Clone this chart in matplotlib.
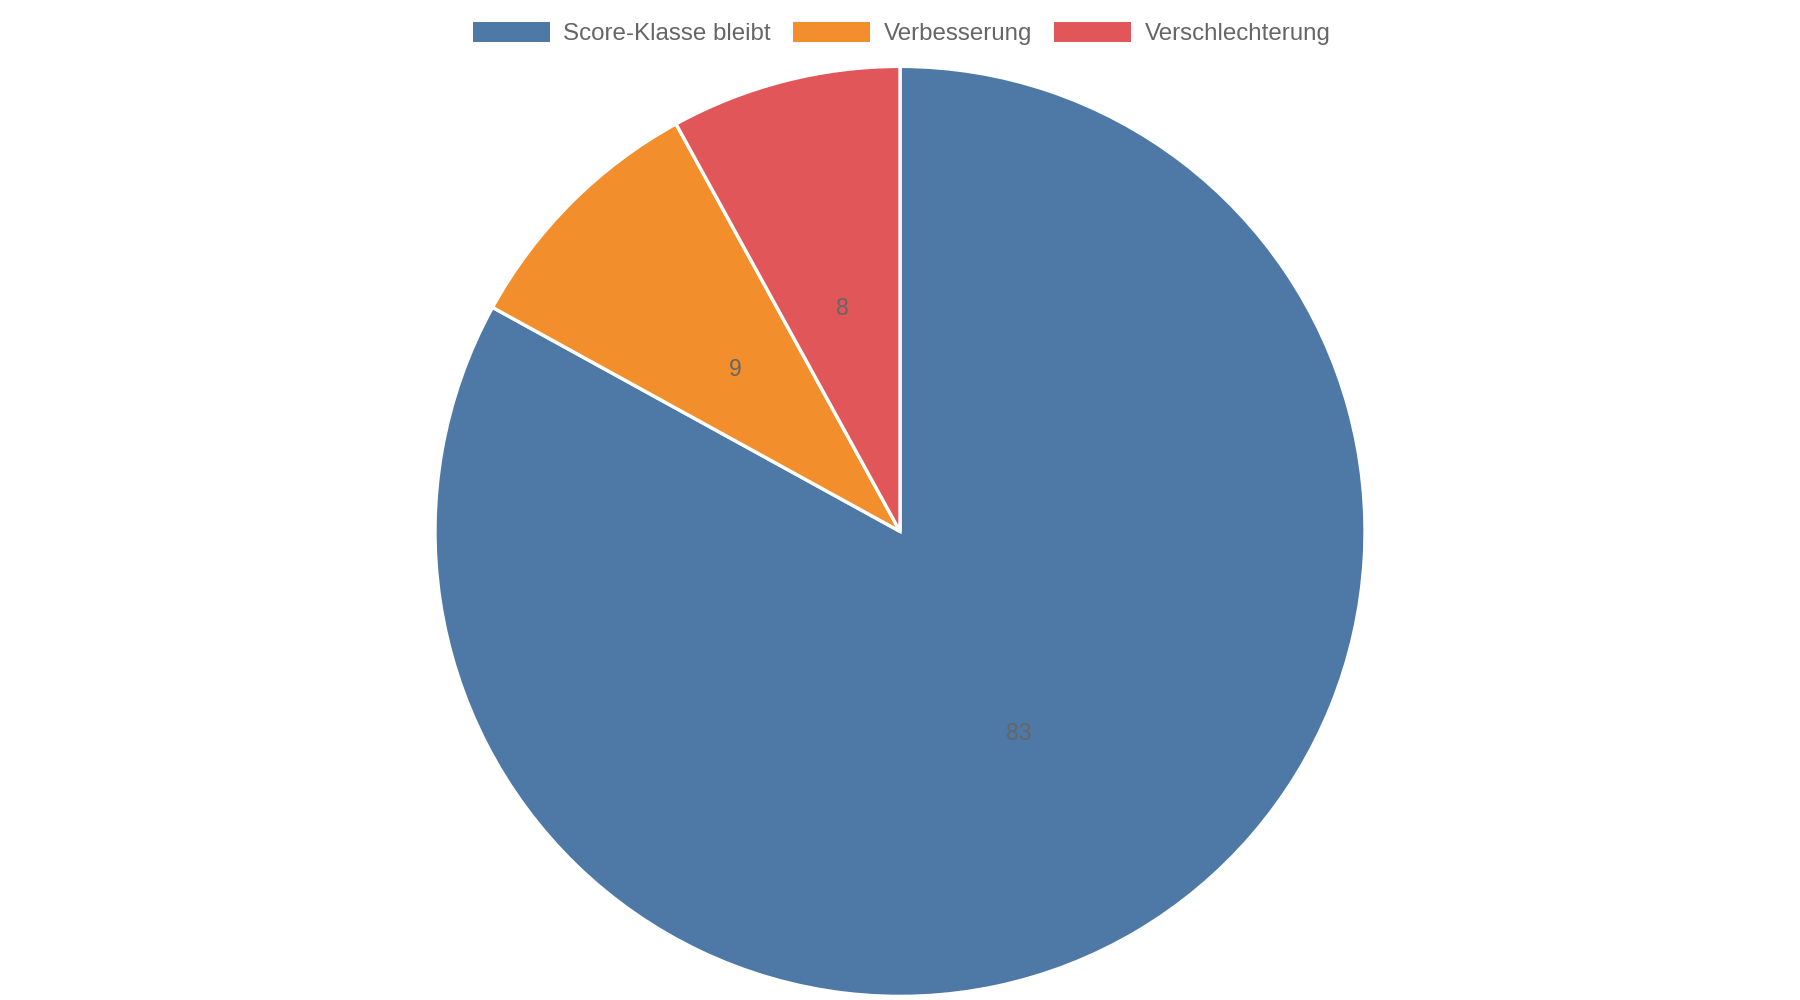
import matplotlib.pyplot as plt
import numpy as np
from matplotlib.patches import Patch

plt.rcParams['font.family'] = ['Liberation Sans', 'DejaVu Sans']

labels = ["Score-Klasse bleibt", "Verbesserung", "Verschlechterung"]
values = [83, 9, 8]
colors = ["#4e79a7", "#f28e2b", "#e15759"]

fig = plt.figure(figsize=(18, 10), dpi=100)
ax = fig.add_axes([(900 - 465) / 1800, 3.6 / 1000, 930 / 1800, 930 / 1000])

wedges, _ = ax.pie(values, colors=colors, startangle=90, counterclock=False,
                   radius=1, wedgeprops=dict(edgecolor="white", linewidth=2.4))
ax.set_xlim(-1, 1)
ax.set_ylim(-1, 1)
ax.set_aspect("equal")

# value labels at the middle of each slice
for w, v in zip(wedges, values):
  ang = np.deg2rad((w.theta1 + w.theta2) / 2)
  ax.text(0.5 * np.cos(ang), 0.5 * np.sin(ang) - 0.005, str(v), ha="center", va="center",
          fontsize=16.5, color="#666666")

handles = [Patch(facecolor=c, edgecolor="none") for c in colors]
fig.legend(handles, labels, loc="center", bbox_to_anchor=(0.501, 0.9665), ncol=3,
           frameon=False, fontsize=17.4, labelcolor="#666666",
           handlelength=3.17, handleheight=0.95, handletextpad=0.57, columnspacing=0.92)

fig.savefig("out.png", dpi=100, facecolor="white")
